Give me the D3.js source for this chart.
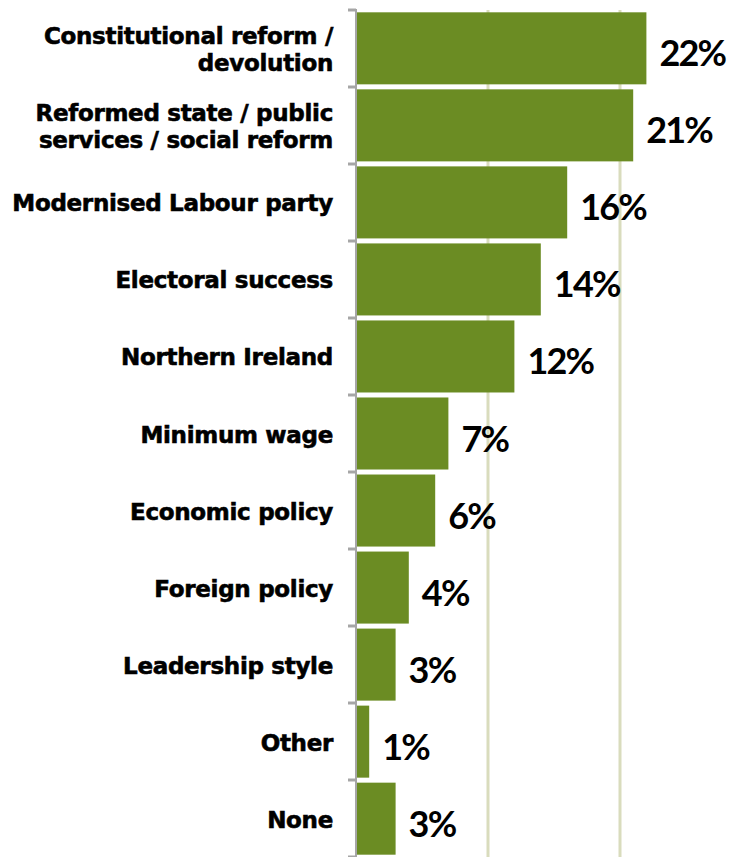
<!DOCTYPE html>
<html>
<head>
<meta charset="utf-8">
<script src="https://cdn.jsdelivr.net/npm/d3@7"></script>
<style>
  html, body { margin: 0; padding: 0; background: #fff; }
  svg { display: block; }
</style>
</head>
<body>
<svg id="chart" width="744" height="857"></svg>
<script>
const categories = [
  ["Constitutional reform /", "devolution"],
  ["Reformed state / public", "services / social reform"],
  ["Modernised Labour party"],
  ["Electoral success"],
  ["Northern Ireland"],
  ["Minimum wage"],
  ["Economic policy"],
  ["Foreign policy"],
  ["Leadership style"],
  ["Other"],
  ["None"]
];
const values = [22, 21, 16, 14, 12, 7, 6, 4, 3, 1, 3];
const gridTicks = [10, 20];

const svg = d3.select("#chart");
const keys = categories.map(c => c.join(" "));

const x = d3.scaleLinear().domain([0, 25]).range([356, 686]);
const y = d3.scaleBand().domain(keys).range([10, 857]).paddingInner(0.065).paddingOuter(0.03);
const yStep = d3.scaleBand().domain(keys).range([10, 857]).padding(0);

// gridlines
svg.append("g").selectAll("line").data(gridTicks).join("line")
  .attr("x1", d => x(d)).attr("x2", d => x(d))
  .attr("y1", 10).attr("y2", 857)
  .attr("stroke", "#d9dcbd").attr("stroke-width", 3);

// bars
svg.append("g").selectAll("rect").data(values).join("rect")
  .attr("x", x(0))
  .attr("y", (d, i) => y(keys[i]))
  .attr("width", d => x(d) - x(0))
  .attr("height", y.bandwidth())
  .attr("fill", "#6b8c23");

// axis
const axisG = svg.append("g");
axisG.append("line")
  .attr("x1", x(0)).attr("x2", x(0)).attr("y1", 9).attr("y2", 857)
  .attr("stroke", "#a6a6a6").attr("stroke-width", 2);
const tickPos = keys.map(k => yStep(k)).concat([yStep(keys[keys.length - 1]) + yStep.step()]);
axisG.selectAll("line.tick").data(tickPos).join("line").attr("class", "tick")
  .attr("x1", x(0) - 8).attr("x2", x(0))
  .attr("y1", d => d).attr("y2", d => d)
  .attr("stroke", "#a6a6a6").attr("stroke-width", 3);

// category labels
const lh = 27;
const catG = svg.append("g")
  .attr("font-family", "'DejaVu Sans', sans-serif")
  .attr("font-weight", "bold")
  .attr("font-size", 23)
  .attr("fill", "#000")
  .attr("stroke", "#000")
  .attr("stroke-width", 0.6)
  .attr("text-anchor", "end");
categories.forEach((lines, i) => {
  const cy = y(keys[i]) + y.bandwidth() / 2;
  const n = lines.length;
  const t = catG.append("text").attr("letter-spacing", -0.3);
  lines.forEach((ln, j) => {
    t.append("tspan")
      .attr("x", 333)
      .attr("y", cy + (j - (n - 1) / 2) * lh + 9)
      .text(ln);
  });
});

// value labels
svg.append("g").selectAll("text").data(values).join("text")
  .attr("x", d => x(d) + 13)
  .attr("y", (d, i) => y(keys[i]) + y.bandwidth() / 2 + 18)
  .attr("font-family", "Lato, sans-serif")
  .attr("font-weight", "bold")
  .attr("font-size", 36)
  .attr("letter-spacing", -1.8)
  .attr("fill", "#000")
  .text(d => d + "%");
</script>
</body>
</html>
